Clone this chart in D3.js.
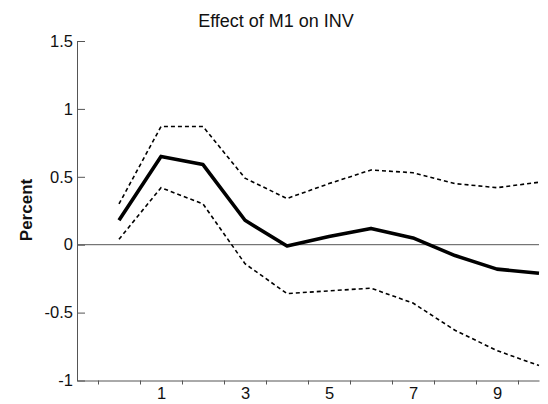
<!DOCTYPE html>
<html lang='en'>
<head>
  <meta charset='UTF-8'>
  <title>Effect of M1 on INV</title>
  <style>
  body {
    margin: 0;
    background: #fff;
  }
  text {
    font-family: 'Liberation Sans', Arial, sans-serif;
    fill: #111;
  }
  .tick text {
    font-size: 16.5px;
  }
  .title {
    font-size: 18px;
  }
  .label {
    font-size: 17px;
    font-weight: bold;
  }
  .axis path, .axis line {
    stroke: #555;
  }
  </style>
  <script src="https://d3js.org/d3.v7.min.js"></script>
</head>
<body>
  <script>

  // impulse response: horizon 0..10
  var steps = [0, 1, 2, 3, 4, 5, 6, 7, 8, 9, 10];
  var response = [0.18, 0.65, 0.59, 0.18, -0.01, 0.06, 0.12, 0.05, -0.08, -0.18, -0.21];
  var upperBand = [0.30, 0.87, 0.87, 0.49, 0.34, 0.45, 0.55, 0.53, 0.45, 0.42, 0.46];
  var lowerBand = [0.04, 0.42, 0.30, -0.14, -0.36, -0.34, -0.32, -0.43, -0.63, -0.78, -0.89];

  var yTicks = [-1, -0.5, 0, 0.5, 1, 1.5];
  var xTickMarks = [-0.5, 0.5, 1.5, 2.5, 3.5, 4.5, 5.5, 6.5, 7.5, 8.5, 9.5];
  var xLabels = [1, 3, 5, 7, 9];

  var svgWidth = 548;
  var svgHeight = 404;
  var margin = { top: 41, right: 9, bottom: 23.5, left: 77 };
  var width = svgWidth - margin.left - margin.right;
  var height = svgHeight - margin.top - margin.bottom;

  var svg = d3.select('body').append('svg')
    .attr('width', svgWidth)
    .attr('height', svgHeight);

  var g = svg.append('g').attr('transform', 'translate(' + margin.left + ',' + margin.top + ')');

  var x = d3.scaleLinear().domain([-1, 10]).range([0, width]);
  var y = d3.scaleLinear().domain([-1, 1.5]).range([height, 0]);

  // y axis, ticks pointing inward
  g.append('g')
    .attr('class', 'axis')
    .call(d3.axisLeft(y).tickValues(yTicks).tickSize(-8).tickPadding(4).tickSizeOuter(0)
      .tickFormat(function (d) { return String(d); }));

  // x axis: tick marks between steps, labels on odd steps
  g.append('g')
    .attr('class', 'axis')
    .attr('transform', 'translate(0,' + height + ')')
    .call(d3.axisBottom(x).tickValues(xTickMarks).tickSize(4).tickSizeOuter(0).tickFormat(''));

  g.append('g')
    .attr('class', 'axis xlab')
    .attr('transform', 'translate(0,' + height + ')')
    .call(d3.axisBottom(x).tickValues(xLabels).tickSize(0).tickPadding(7).tickFormat(d3.format('d')))
    .call(function (a) { a.select('.domain').remove(); });

  // zero line
  g.append('line')
    .attr('x1', 0)
    .attr('x2', width)
    .attr('y1', y(0))
    .attr('y2', y(0))
    .attr('stroke', '#555')
    .attr('stroke-width', 1);

  function lineOf(values) {
    return d3.line()
      .x(function (d, i) { return x(steps[i]); })
      .y(function (d) { return y(d); })(values);
  }

  [upperBand, lowerBand].forEach(function (band) {
    g.append('path')
      .attr('d', lineOf(band))
      .attr('fill', 'none')
      .attr('stroke', '#000')
      .attr('stroke-width', 1.6)
      .attr('stroke-dasharray', '4,3');
  });

  g.append('path')
    .attr('d', lineOf(response))
    .attr('fill', 'none')
    .attr('stroke', '#000')
    .attr('stroke-width', 3.6)
    .attr('stroke-linejoin', 'round');

  // title and y label
  svg.append('text')
    .attr('class', 'title')
    .attr('x', svgWidth / 2 + 2)
    .attr('y', 27)
    .attr('text-anchor', 'middle')
    .text('Effect of M1 on INV');

  svg.append('text')
    .attr('class', 'label')
    .attr('transform', 'translate(32,210) rotate(-90)')
    .attr('text-anchor', 'middle')
    .text('Percent');
  </script>
</body>
</html>
